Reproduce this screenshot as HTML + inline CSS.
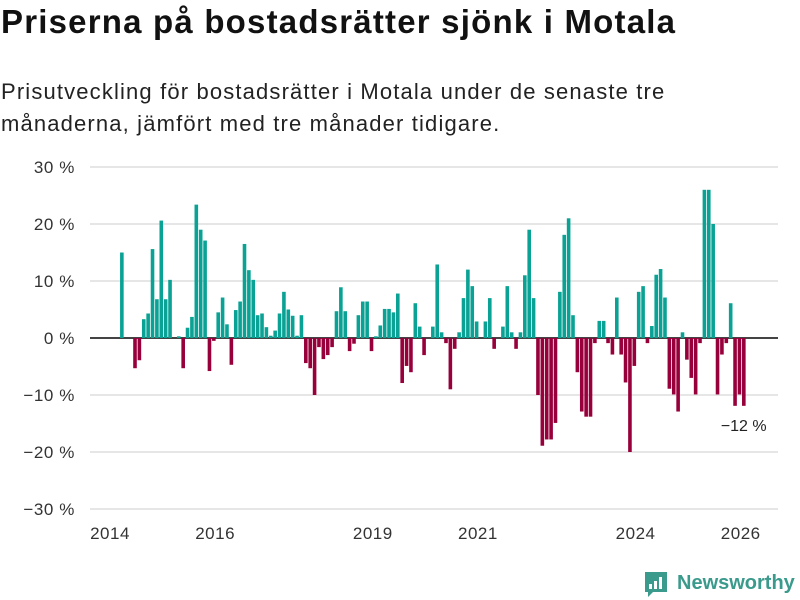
<!DOCTYPE html>
<html><head><meta charset="utf-8"><style>
body{margin:0;background:#fff;font-family:"Liberation Sans",sans-serif;}
#wrap{position:relative;width:800px;height:600px;overflow:hidden;}
h1{position:absolute;left:1px;top:3px;margin:0;font-size:33px;font-weight:bold;color:#111;letter-spacing:1.2px;white-space:nowrap}
p{position:absolute;left:1px;top:76px;margin:0;font-size:22px;line-height:32px;color:#222;width:690px;letter-spacing:1.15px}
</style></head><body>
<div id="wrap">
<h1>Priserna på bostadsrätter sjönk i Motala</h1>
<p>Prisutveckling för bostadsrätter i Motala under de senaste tre<br>månaderna, jämfört med tre månader tidigare.</p>
<svg id="chart" width="800" height="600" style="position:absolute;left:0;top:0"></svg>
</div>
<script>
const values=[0,0,15,0,0,-5.3,-3.9,3.3,4.3,15.6,6.8,20.6,6.8,10.2,0,0.3,-5.3,1.8,3.7,23.4,19,17.1,-5.8,-0.5,4.5,7.1,2.4,-4.7,4.9,6.4,16.5,11.9,10.2,4,4.3,1.9,0.4,1.3,4.3,8.1,5,3.9,0.4,4,-4.4,-5.3,-10,-1.6,-3.7,-3,-1.6,4.7,8.9,4.7,-2.3,-1,4,6.4,6.4,-2.3,0.3,2.2,5.1,5.1,4.5,7.8,-7.9,-4.9,-6,6.1,2,-3,0,2,12.9,1,-0.9,-9,-1.9,1,7,12,9.1,2.9,0,2.9,7,-1.9,0,2,9.1,1,-1.9,1,11,19,7,-10,-18.9,-17.8,-17.8,-14.9,8.1,18.1,21,4,-6,-12.9,-13.8,-13.8,-0.9,3,3,-0.9,-2.9,7.1,-2.9,-7.8,-20,-4.9,8.1,9.1,-0.9,2.1,11.1,12.1,7.1,-8.9,-9.9,-12.9,1,-3.8,-7,-9.9,-0.9,26,26,20,-9.9,-2.9,-0.9,6.1,-11.9,-9.9,-11.9];
const startYear=2014;
const yTicks=[30,20,10,0,-10,-20,-30];
const xTickYears=[2014,2016,2019,2021,2024,2026];
const NS="http://www.w3.org/2000/svg";
const svg=document.getElementById('chart');
const y=v=>338-v*5.7;
const x=m=>111+m*4.38;
function mk(t,a){const e=document.createElementNS(NS,t);for(const k in a)e.setAttribute(k,a[k]);svg.appendChild(e);return e;}
yTicks.forEach(t=>{
 const l=mk('line',{x1:90,x2:778,y1:y(t),y2:y(t),stroke:t===0?'#444':'#ddd','stroke-width':t===0?2:1.5});
 
 
 const tx=mk('text',{x:75,y:y(t)+6,'text-anchor':'end','font-size':17,'letter-spacing':0.6,fill:'#333','font-family':'Liberation Sans, sans-serif'});
 tx.textContent=(t<0?'−'+(-t):t)+' %';
 
 
});
values.forEach((v,i)=>{
 if(!v)return;
 const r=mk('rect',{x:x(i)+0.3,width:3.6,y:v>0?y(v):338,height:Math.abs(v)*5.7,fill:v>0?'#0aa294':'#97003b'});
 
 
});
xTickYears.forEach(yr=>{
 const tx=mk('text',{x:x((yr-startYear)*12)-1,y:539,'text-anchor':'middle','font-size':17,'letter-spacing':0.5,fill:'#333','font-family':'Liberation Sans, sans-serif'});
 tx.textContent=yr;
 
 
});
const last=values.length-1;
const lab=mk('text',{x:x(last)+2,y:y(values[last])+25,'text-anchor':'middle','font-size':16,fill:'#222','font-family':'Liberation Sans, sans-serif'});
lab.textContent='−'+Math.round(-values[last])+' %';


const g=mk('g',{});


g.innerHTML='<path d="M645 572 h22 v20 h-14 l-5 5 v-5 h-3 z" fill="#3a9a8c"/><rect x="649" y="584" width="3" height="5" fill="#fff"/><rect x="654" y="581" width="3" height="8" fill="#fff"/><rect x="659" y="577" width="3" height="12" fill="#fff"/><text x="677" y="589" font-size="20" font-weight="bold" fill="#3a9a8c" font-family="Liberation Sans, sans-serif">Newsworthy</text>';
</script>
</body></html>
